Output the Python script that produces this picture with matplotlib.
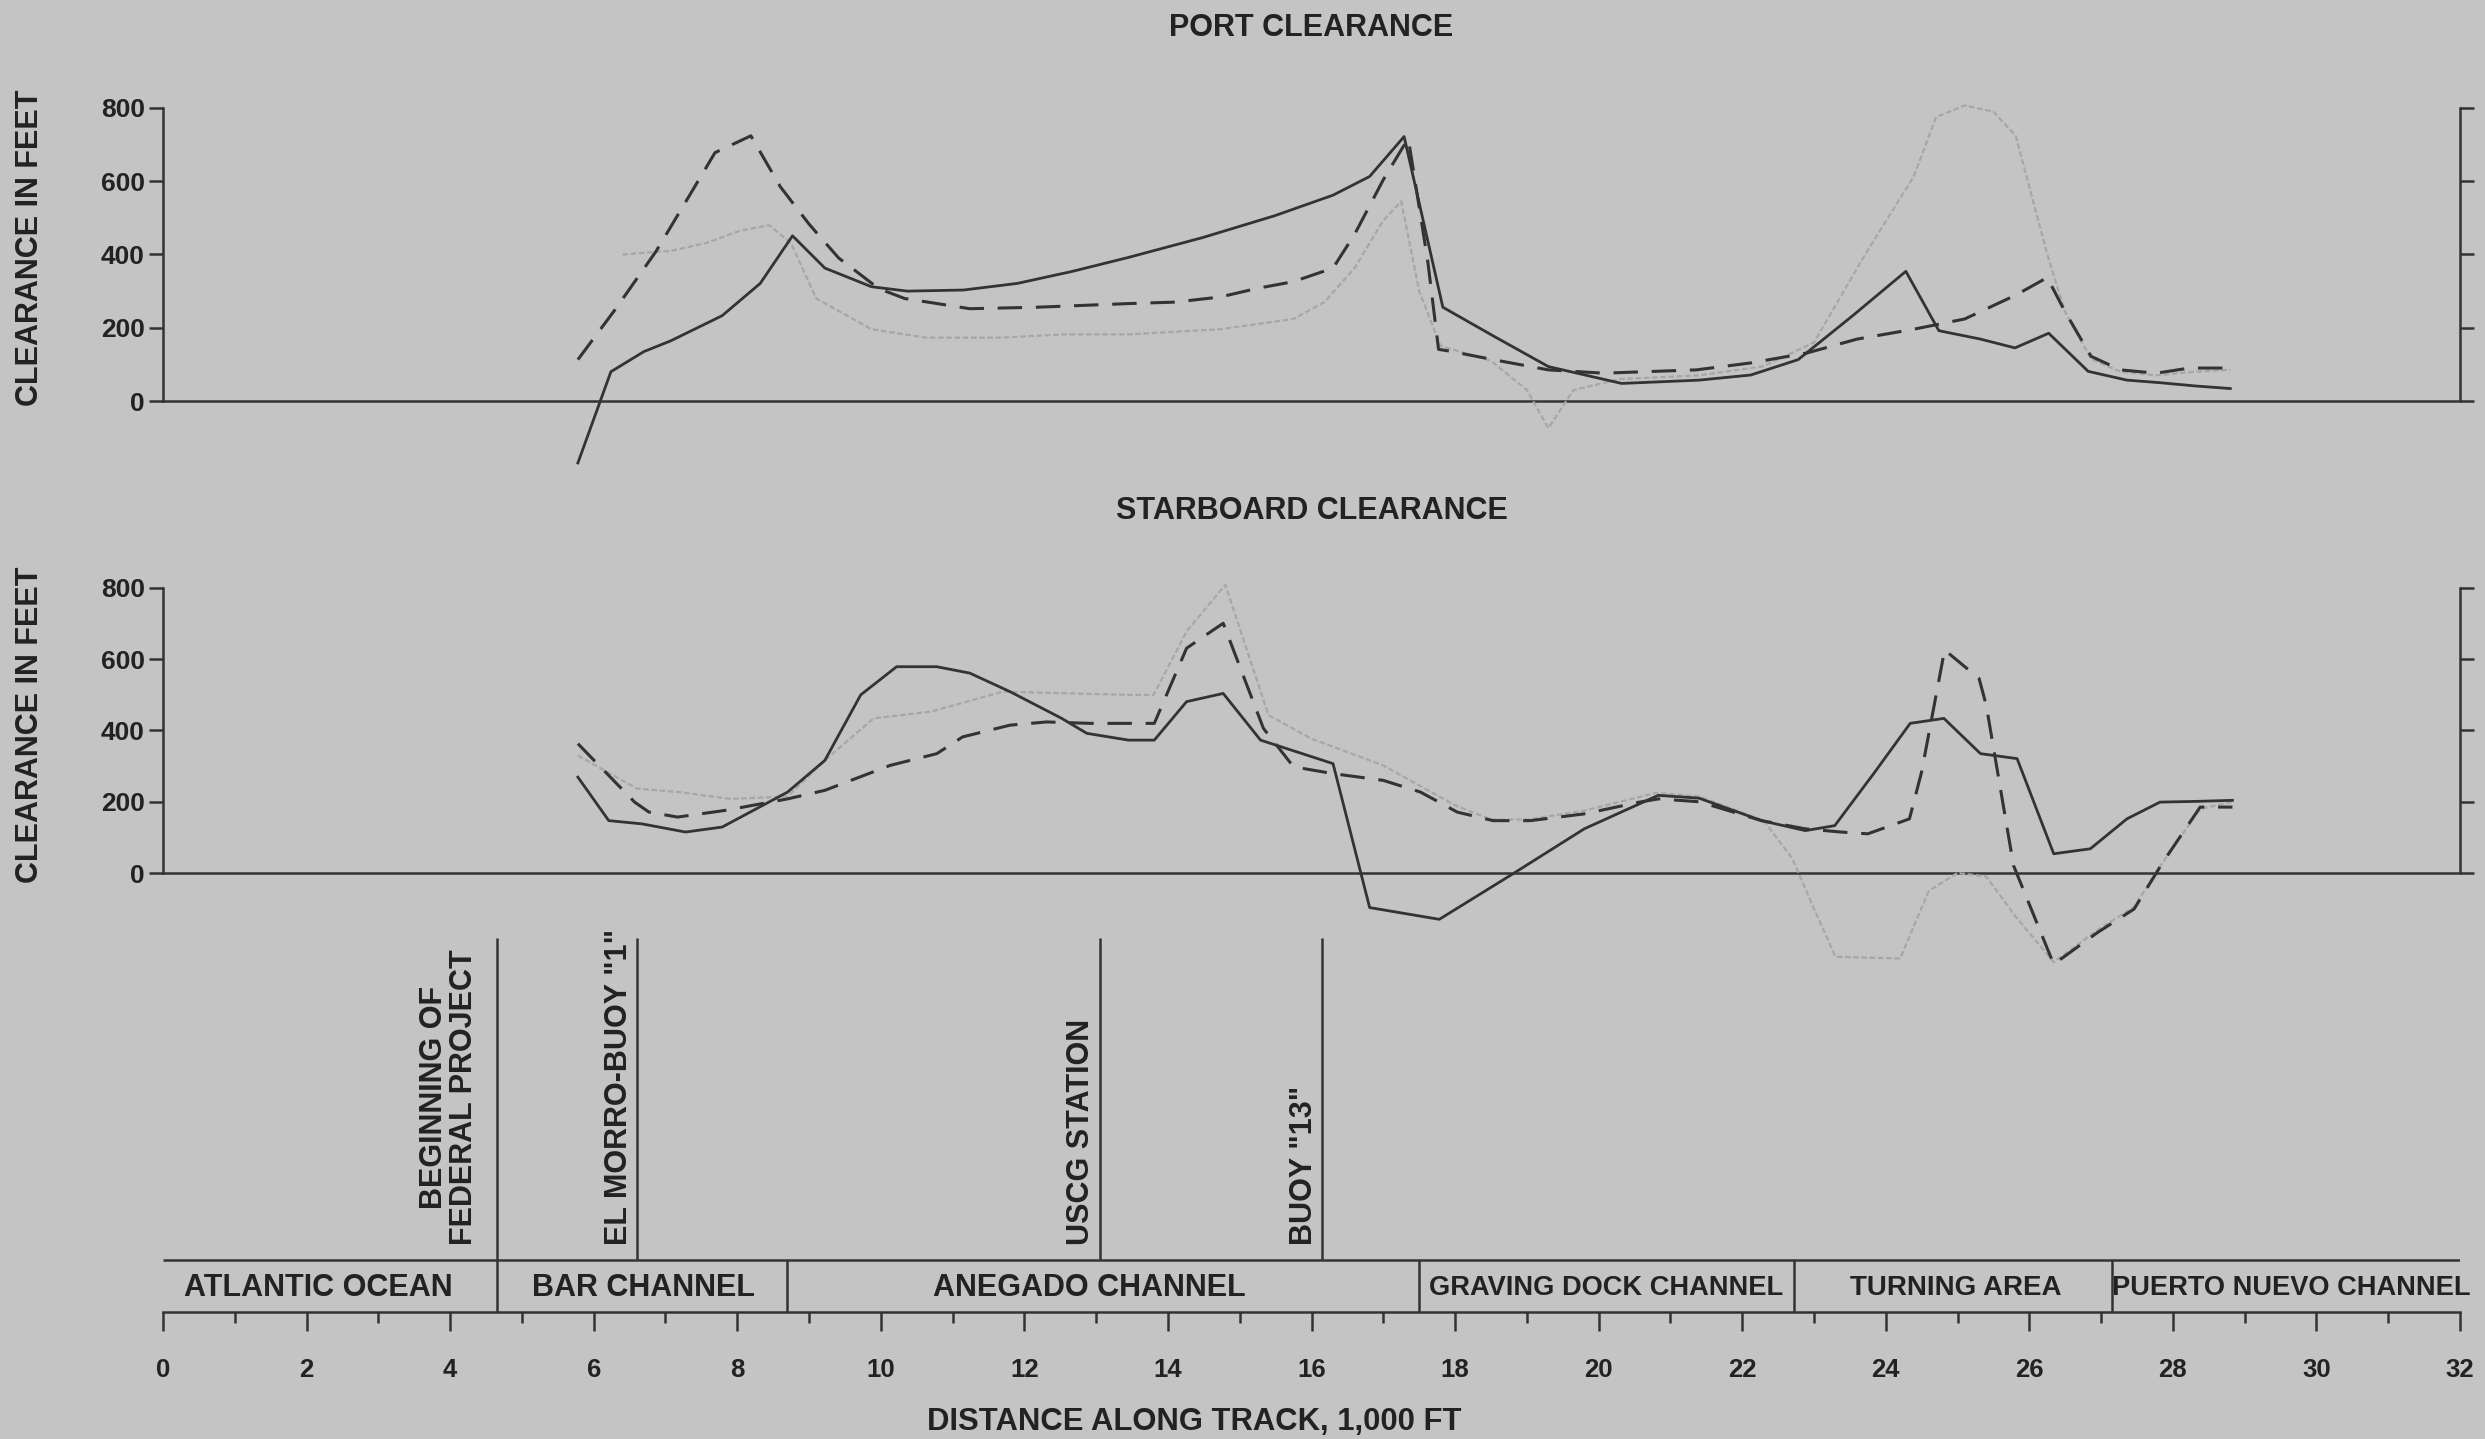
import matplotlib
matplotlib.use("Agg")
import matplotlib.pyplot as plt
from matplotlib.transforms import offset_copy
import numpy as np

W, H = 2485, 1439
BG = "#c4c4c4"
INK = "#222222"
LINE = "#333333"
GRAY = "#a7a7a7"
FONT = "Liberation Sans"

# ---------------- data ----------------
# PORT CLEARANCE
port_solid_x = [5.78, 6.24, 6.7, 7.07, 7.79, 8.32, 8.77, 9.22, 9.87, 10.37, 11.15, 11.9, 12.67,
                13.45, 14.48, 15.49, 16.3, 16.81, 17.29, 17.83, 18.53, 19.3, 20.32, 21.4, 22.12,
                22.78, 23.54, 24.28, 24.74, 25.32, 25.8, 26.27, 26.82, 27.36, 27.82, 28.32, 28.8]
port_solid_y = [-169, 80, 135, 164, 233, 321, 451, 363, 312, 300, 303, 321, 354,
                392, 446, 506, 562, 613, 722, 256, 178, 94, 48, 57, 71,
                113, 233, 354, 192, 169, 145, 185, 81, 57, 50, 41, 34]

port_dash_x = [5.78, 6.3, 6.87, 7.38, 7.69, 7.94, 8.19, 8.6, 9.0, 9.41, 9.97, 10.33, 11.24, 12.17,
               13.45, 14.1, 14.73, 15.23, 15.75, 16.3, 16.6, 17.0, 17.27, 17.35, 17.62, 17.77,
               17.93, 18.53, 19.3, 20.07, 21.36, 22.12, 22.9, 23.6, 24.39, 25.1, 25.81, 26.25,
               26.5, 26.86, 27.27, 27.77, 28.23, 28.8]
port_dash_y = [113, 250, 409, 576, 678, 701, 724, 585, 483, 391, 307, 280, 252, 256,
               266, 270, 284, 307, 326, 363, 455, 604, 692, 715, 381, 141,
               136, 113, 85, 76, 85, 104, 131, 169, 196, 224, 289, 337,
               243, 122, 85, 76, 90, 90]

port_gray_x = [6.4, 7.08, 7.58, 8.04, 8.45, 8.75, 9.1, 9.87, 10.63, 11.65, 12.57, 13.45, 14.73,
               15.75, 16.18, 16.6, 17.0, 17.25, 17.5, 17.8, 18.5, 19.0, 19.3, 19.65, 20.3, 21.4,
               22.3, 23.0, 23.74, 24.39, 24.7, 25.1, 25.5, 25.81, 26.0, 26.25, 26.5, 26.86,
               27.27, 27.77, 28.3, 28.8]
port_gray_y = [400, 410, 432, 465, 480, 430, 280, 196, 173, 173, 182, 182, 196,
               224, 270, 363, 493, 545, 300, 150, 110, 30, -74, 30, 60, 70,
               95, 160, 409, 613, 775, 807, 790, 724, 585, 400, 243, 115,
               80, 70, 80, 85]

# STARBOARD CLEARANCE
stbd_solid_x = [5.78, 6.21, 6.67, 7.28, 7.79, 8.7, 9.22, 9.72, 10.22, 10.78, 11.24, 11.8, 12.52,
                12.87, 13.45, 13.81, 14.26, 14.77, 15.29, 16.3, 16.81, 17.78, 18.8, 19.8, 20.83,
                21.4, 22.27, 22.88, 23.29, 23.85, 24.34, 24.81, 25.32, 25.83, 26.34, 26.85,
                27.36, 27.82, 28.32, 28.83]
stbd_solid_y = [269, 147, 138, 115, 129, 227, 316, 500, 579, 579, 561, 509, 434,
                392, 373, 373, 481, 504, 373, 307, -97, -130, -3, 124, 218,
                210, 147, 119, 133, 284, 420, 434, 335, 321, 54, 68,
                152, 199, 201, 204]

stbd_dash_x = [5.78, 6.57, 6.77, 7.17, 7.84, 8.7, 9.22, 10.13, 10.78, 11.14, 11.8, 12.31, 12.92,
               13.45, 13.81, 14.26, 14.77, 15.33, 15.75, 16.3, 17.0, 17.52, 18.03, 18.53, 19.05,
               19.8, 20.57, 20.83, 21.4, 22.27, 22.88, 23.38, 23.75, 24.33, 24.5, 24.82, 25.3,
               25.4, 25.78, 26.34, 26.95, 27.46, 27.86, 28.38, 28.83]
stbd_dash_y = [363, 199, 171, 157, 176, 208, 232, 302, 335, 382, 415, 424, 420,
               420, 420, 631, 701, 406, 298, 279, 260, 227, 171, 147, 147,
               166, 199, 208, 200, 147, 124, 115, 110, 152, 284, 626, 546,
               471, 21, -256, -167, -101, 30, 185, 185]

stbd_gray_x = [5.78, 6.6, 7.2, 7.9, 8.7, 9.3, 9.9, 10.7, 11.7, 12.67, 13.45, 13.8, 14.26, 14.8,
               15.4, 16.0, 17.0, 18.0, 18.5, 19.0, 19.8, 20.8, 21.4, 22.3, 22.7, 23.0, 23.3,
               24.2, 24.6, 25.0, 25.4, 25.8, 26.34, 26.95, 27.46, 27.86, 28.38, 28.83]
stbd_gray_y = [330, 237, 227, 208, 215, 330, 434, 453, 509, 504, 500, 500, 678, 809,
               443, 377, 302, 190, 150, 150, 175, 225, 215, 147, 40, -100, -235,
               -240, -50, 0, -10, -120, -250, -160, -95, 30, 180, 200]

y_ticks = [0, 200, 400, 600, 800]
x_major = list(range(0, 33, 2))
x_minor = list(range(0, 33, 1))

channel_names = ["ATLANTIC OCEAN", "BAR CHANNEL", "ANEGADO CHANNEL",
                 "GRAVING DOCK CHANNEL", "TURNING AREA", "PUERTO NUEVO CHANNEL"]
channel_bounds = [0, 4.65, 8.7, 17.5, 22.72, 27.15, 32]
channel_label_x = [2.17, 6.7, 12.9, 20.1, 24.98, 29.65]
channel_font = [22, 22, 22, 19.6, 20, 19.6]

marker_names = ["BEGINNING OF\nFEDERAL PROJECT", 'EL MORRO-BUOY "1"', "USCG STATION", 'BUOY "13"']
marker_x = [4.65, 6.6, 13.05, 16.15]
marker_gap_px = [18, 3, 4, 3]

# ---------------- layout helpers ----------------
X0_PX, X1_PX = 163, 2460


def axes_rect(top_px, bottom_px):
    return [X0_PX / W, 1 - bottom_px / H, (X1_PX - X0_PX) / W, (bottom_px - top_px) / H]


fig = plt.figure(figsize=(W / 100, H / 100), dpi=100, facecolor=BG)
plt.rcParams["font.family"] = [FONT, "DejaVu Sans"]
plt.rcParams["font.weight"] = "bold"


def clearance_panel(rect, ylim, sx, sy, dx, dy, gx, gy):
    ax = fig.add_axes(rect)
    ax.set_facecolor("none")
    ax.set_xlim(0, 32)
    ax.set_ylim(*ylim)
    for s in ("top", "bottom"):
        ax.spines[s].set_visible(False)
    for s in ("left", "right"):
        ax.spines[s].set_bounds(0, 800)
        ax.spines[s].set_linewidth(1.8)
        ax.spines[s].set_color(LINE)
    ax.set_xticks([])
    ax.set_yticks(y_ticks)
    ax.tick_params(axis="y", which="both", direction="out", length=10, width=1.8,
                   color=LINE, left=True, right=True, labelleft=True, labelright=False,
                   labelsize=19, labelcolor=INK, pad=3)
    for lab in ax.get_yticklabels():
        lab.set_fontweight("bold")
    ax.axhline(0, color=LINE, lw=1.8, zorder=1)
    ax.plot(gx, gy, color=GRAY, lw=1.6, dashes=(2.5, 1.2), zorder=2, solid_capstyle="butt")
    ax.plot(dx, dy, color=LINE, lw=2.2, dashes=(8, 4.5), zorder=3)
    ax.plot(sx, sy, color=LINE, lw=2.0, zorder=4)
    return ax


ax_top = clearance_panel(axes_rect(86, 481.6), (-220, 860),
                         port_solid_x, port_solid_y, port_dash_x, port_dash_y,
                         port_gray_x, port_gray_y)
ax_bot = clearance_panel(axes_rect(566.6, 979.9), (-300, 860),
                         stbd_solid_x, stbd_solid_y, stbd_dash_x, stbd_dash_y,
                         stbd_gray_x, stbd_gray_y)

# titles and y labels
xc = (X0_PX + X1_PX) / 2 / W
fig.text(xc, 1 - 28 / H, "PORT CLEARANCE", ha="center", va="center",
         fontsize=22, fontweight="bold", color=INK)
fig.text(xc, 1 - 511 / H, "STARBOARD CLEARANCE", ha="center", va="center",
         fontsize=22, fontweight="bold", color=INK)
for yc in (248, 725):
    fig.text(30 / W, 1 - yc / H, "CLEARANCE IN FEET", rotation=90, ha="center",
             va="center", fontsize=22, fontweight="bold", color=INK)

# ---------------- lower strip: markers, channel band, distance axis ----------------
ax3 = fig.add_axes(axes_rect(900, 1439))
ax3.set_facecolor("none")
ax3.set_xlim(0, 32)
ax3.set_ylim(1439, 900)  # pixel rows, top to bottom
for s in ("top", "left", "right"):
    ax3.spines[s].set_visible(False)
BAND_TOP, BAND_BOT = 1260, 1312
ax3.spines["bottom"].set_position(("data", BAND_BOT))
ax3.spines["bottom"].set_linewidth(1.8)
ax3.spines["bottom"].set_color(LINE)
ax3.set_yticks([])
ax3.set_xticks(x_major)
ax3.set_xticks(x_minor, minor=True)
ax3.set_xticklabels([str(v) for v in x_major], fontsize=18.5, fontweight="bold", color=INK)
ax3.tick_params(axis="x", which="major", direction="out", length=14, width=1.8, color=LINE, pad=19)
ax3.tick_params(axis="x", which="minor", direction="out", length=8, width=1.8, color=LINE)

ax3.hlines(BAND_TOP, 0, 32, color=LINE, lw=1.8)
ax3.vlines(channel_bounds[1:-1], BAND_TOP, BAND_BOT, color=LINE, lw=1.8)
for name, cx, fs in zip(channel_names, channel_label_x, channel_font):
    ax3.text(cx, 1288, name, ha="center", va="center", fontsize=fs,
             fontweight="bold", color=INK)

ax3.vlines(marker_x, 938, BAND_TOP, color=LINE, lw=1.8)
for name, mx, gap in zip(marker_names, marker_x, marker_gap_px):
    tr = offset_copy(ax3.transData, fig=fig, x=-gap, y=0, units="dots")
    ax3.text(mx, 1245, name, rotation=90, ha="right", va="bottom", transform=tr,
             fontsize=22, fontweight="bold", color=INK, multialignment="center",
             linespacing=1.0)

ax3.text(14.36, 1422, "DISTANCE ALONG TRACK, 1,000 FT", ha="center", va="center",
         fontsize=22.3, fontweight="bold", color=INK)

fig.savefig("out.png", dpi=100, facecolor=BG)
